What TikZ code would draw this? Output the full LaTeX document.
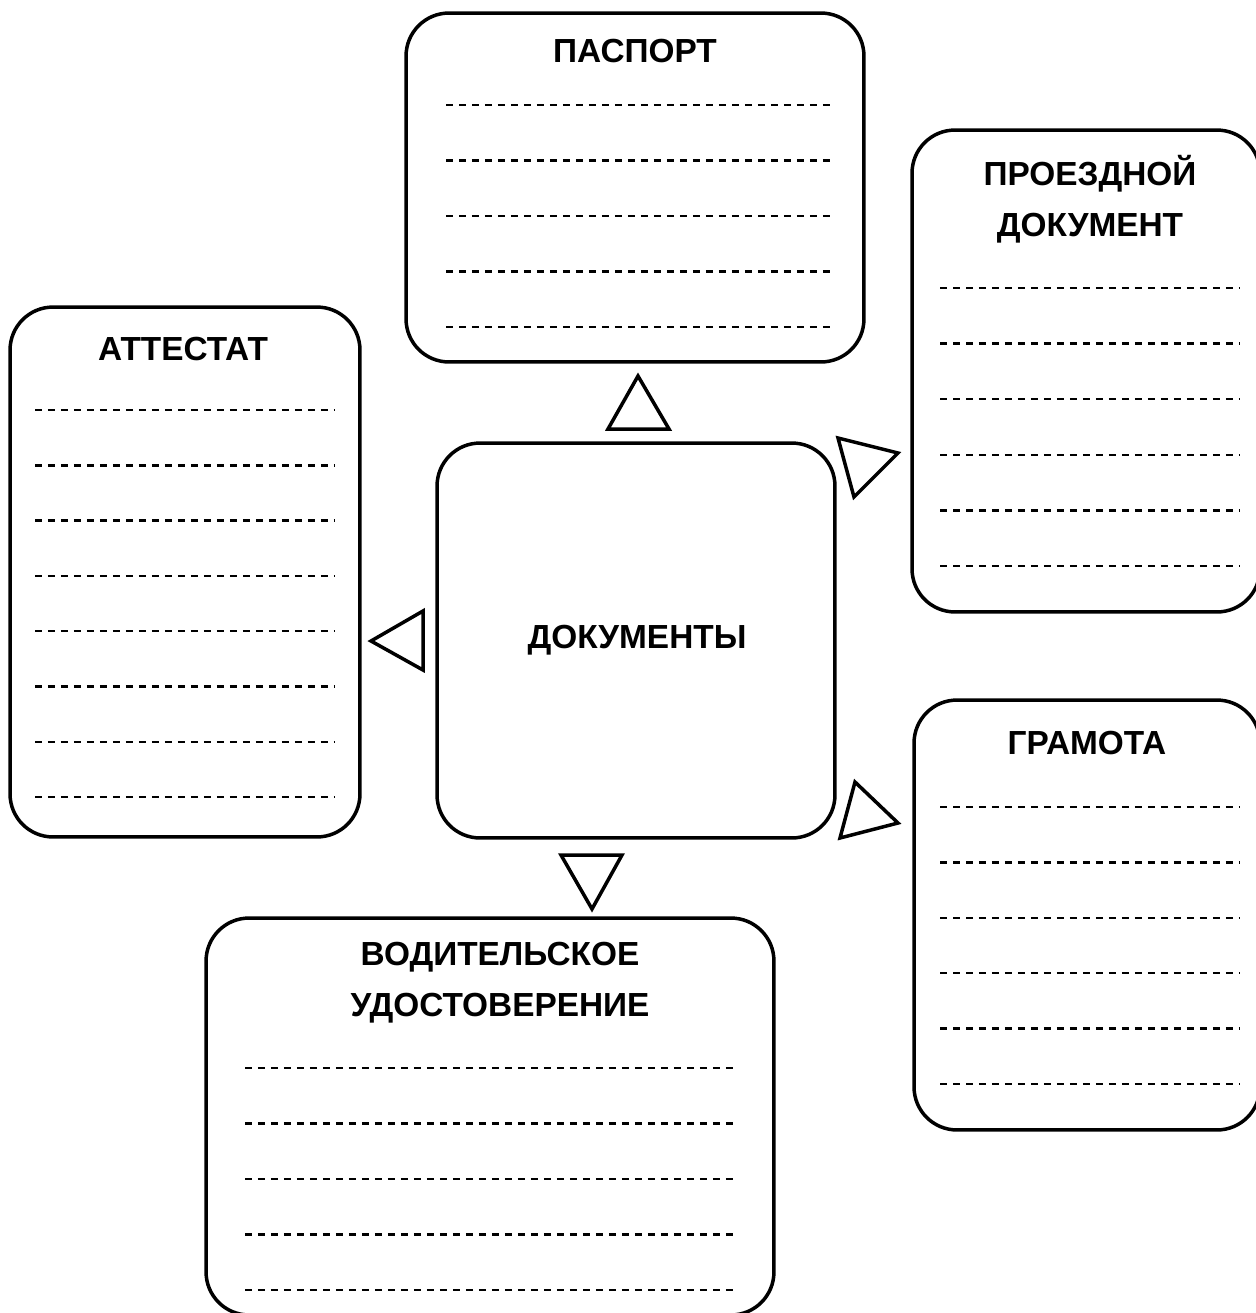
\documentclass[tikz,border=0pt]{standalone}
\usepackage{fontspec}
\setmainfont{Liberation Sans}
\usetikzlibrary{positioning}

\begin{document}
\begin{tikzpicture}[
  x=0.02cm, y=-0.02cm,
  every node/.style={font=\fontsize{19}{29}\selectfont\bfseries},
  card/.style={rectangle, draw, line width=0.07cm, rounded corners=0.86cm, inner sep=0pt},
  title/.style={align=center, inner sep=0pt},
  blank/.style={dash pattern=on 0.14cm off 0.12cm, line width=0.05cm},
  pointer/.style={draw, line width=0.07cm, line join=miter}
]
\useasboundingbox (0,0) rectangle (1256,1313);
\clip (0,0) rectangle (1256,1313);

\node[card, minimum width=7.96cm, minimum height=7.9cm] (docs) at (636,640.5) {};
\node[card, minimum width=9.16cm, minimum height=6.98cm] (passport) at (635,187.5) {};
\node[card, minimum width=6.96cm, minimum height=9.64cm] (ticket) at (1086,371) {};
\node[card, minimum width=7cm, minimum height=10.6cm] (certif) at (185,572) {};
\node[card, minimum width=6.92cm, minimum height=8.6cm] (diploma) at (1087,915) {};
\node[card, minimum width=11.36cm, minimum height=7.94cm] (license) at (490,1116.5) {};

% Titles
\node[title] (docsT) at (637,640) {ДОКУМЕНТЫ};
\node[title] (passportT) at (635,51) {ПАСПОРТ};
\node[title] (ticketT) at (1090,199.5) {ПРОЕЗДНОЙ\\ДОКУМЕНТ};
\node[title] (certifT) at (183,349) {АТТЕСТАТ};
\node[title] (diplomaT) at (1087,743) {ГРАМОТА};
\node[title] (licenseT) at (500,983) {ВОДИТЕЛЬСКОЕ\\УДОСТОВЕРЕНИЕ};

% Lines to fill in
\foreach \k in {0,...,4}
  \draw[blank] (446,105+55.5*\k) -- (830,105+55.5*\k);
\foreach \k in {0,...,5}
  \draw[blank] (940,288+55.6*\k) -- (1240,288+55.6*\k);
\foreach \k in {0,...,7}
  \draw[blank] (35,410+55.3*\k) -- (335,410+55.3*\k);
\foreach \k in {0,...,5}
  \draw[blank] (940,807+55.4*\k) -- (1240,807+55.4*\k);
\foreach \k in {0,...,4}
  \draw[blank] (245,1068+55.5*\k) -- (735,1068+55.5*\k);

% Triangles
\draw[pointer] (638,376) -- (669,429) -- (608,429) -- cycle;
\draw[pointer] (838,438) -- (898,453) -- (854,497) -- cycle;
\draw[pointer] (371,641) -- (423,611) -- (423,670) -- cycle;
\draw[pointer] (855,782) -- (898,823) -- (840,838) -- cycle;
\draw[pointer] (561,855) -- (622,855) -- (592,909) -- cycle;

\end{tikzpicture}
\end{document}
